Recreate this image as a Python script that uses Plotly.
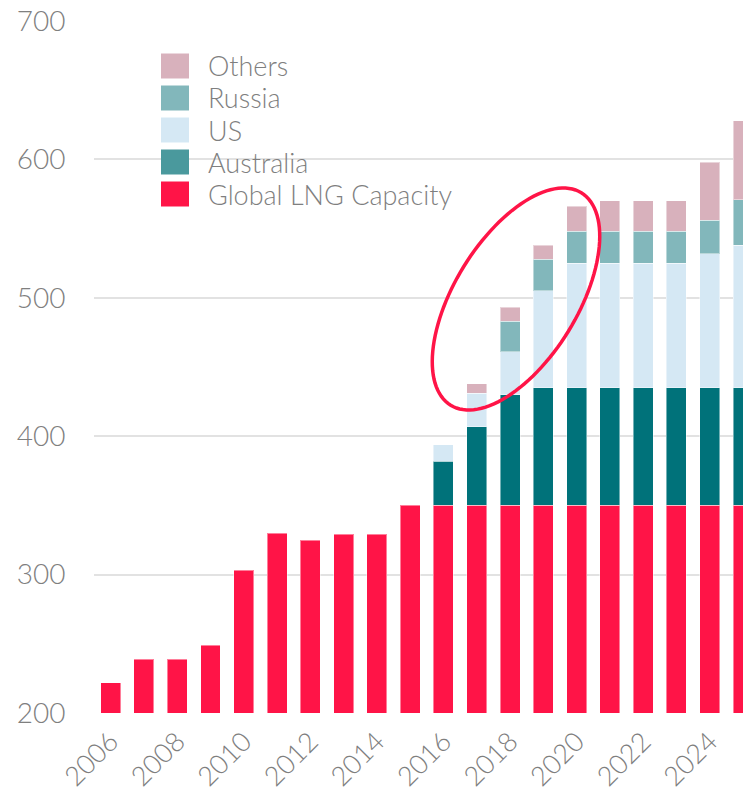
import math
import plotly.graph_objects as go

# LNG export capacity (mtpa) by year, stacked by source of new capacity
years = list(range(2006, 2026))
global_lng = [222, 239, 239, 249, 303, 330, 325, 329, 329, 350,
              350, 350, 350, 350, 350, 350, 350, 350, 350, 350]
australia = [None] * 10 + [32, 57, 80, 85, 85, 85, 85, 85, 85, 85]
us = [None] * 10 + [12, 24, 31, 70, 90, 90, 90, 90, 97, 103]
russia = [None] * 12 + [22, 23, 23, 23, 23, 23, 24, 33]
others = [None] * 11 + [7, 10, 10, 18, 22, 22, 22, 42, 57]

series_names = ["Global LNG Capacity", "Australia", "US", "Russia", "Others"]
series_values = [global_lng, australia, us, russia, others]
bar_colors = ["#FF1447", "#00727A", "#D5E8F4", "#82B7BB", "#D8B1BC"]
legend_colors = ["#FF1447", "#4A999D", "#D5E8F4", "#82B7BB", "#D8B1BC"]

y_ticks = [200, 300, 400, 500, 600, 700]
x_ticks = list(range(2006, 2025, 2))

FONT = dict(family="Lato, 'Open Sans', sans-serif", size=28, color="#7f7f7f", weight=300)

# plot area geometry (pixels) used for the annotation ellipse and legend
W, H = 743, 794
ML, MR, MT, MB = 94, 0, 21, 81
X_RANGE = [2005.5, 2025]
Y_RANGE = [200, 700]
plot_w = W - ML - MR
plot_h = H - MT - MB
px_per_x = plot_w / (X_RANGE[1] - X_RANGE[0])
px_per_y = plot_h / (Y_RANGE[1] - Y_RANGE[0])

fig = go.Figure()
for name, vals, col in zip(series_names, series_values, bar_colors):
    fig.add_trace(go.Bar(
        x=years, y=vals, name=name, showlegend=False,
        marker=dict(color=col, line=dict(color="rgba(255,255,255,0.45)", width=1)),
    ))

# rotated ellipse highlighting the 2017-2020 ramp-up
cx_px, cy_px = 516, 299
a_px, b_px, theta = 124.7, 61.5, math.radians(58.4)
cx = X_RANGE[0] + (cx_px - ML) / px_per_x
cy = Y_RANGE[0] + (MT + plot_h - cy_px) / px_per_y
pts = []
for i in range(121):
    t = 2 * math.pi * i / 120
    dx = a_px * math.cos(t) * math.cos(theta) - b_px * math.sin(t) * math.sin(theta)
    dy = a_px * math.cos(t) * math.sin(theta) + b_px * math.sin(t) * math.cos(theta)
    pts.append((cx + dx / px_per_x, cy + dy / px_per_y))
path = "M " + " L ".join(f"{x:.4f},{y:.4f}" for x, y in pts) + " Z"

shapes = [dict(type="path", path=path, xref="x", yref="y",
               line=dict(color="#FF1447", width=3.5), layer="above")]

# legend drawn as large square swatches with labels
annotations = []
def to_paper_x(px):
    return (px - ML) / plot_w
def to_paper_y(py):
    return (MT + plot_h - py) / plot_h

for i, (name, col) in enumerate(zip(reversed(series_names), reversed(legend_colors))):
    yc = 66 + 32 * i
    shapes.append(dict(type="rect", xref="paper", yref="paper",
                       x0=to_paper_x(161), x1=to_paper_x(189),
                       y0=to_paper_y(yc + 12.5), y1=to_paper_y(yc - 12.5),
                       fillcolor=col, line=dict(width=0), layer="above"))
    annotations.append(dict(xref="paper", yref="paper", x=to_paper_x(206), y=to_paper_y(yc),
                            text=name, showarrow=False, xanchor="left", yanchor="middle",
                            font=dict(FONT, size=27)))

fig.update_layout(
    width=W, height=H,
    margin=dict(l=ML, r=MR, t=MT, b=MB, autoexpand=False),
    barmode="stack", bargap=0.4,
    plot_bgcolor="white", paper_bgcolor="white",
    font=FONT,
    shapes=shapes, annotations=annotations,
    showlegend=False,
    xaxis=dict(range=X_RANGE, tickvals=x_ticks, ticktext=[str(v) for v in x_ticks],
               tickangle=-45, showgrid=False, zeroline=False, showline=False,
               automargin=False,
               ticks="outside", ticklen=1, tickcolor="rgba(0,0,0,0)",
               tickfont=dict(FONT, size=27)),
    yaxis=dict(range=Y_RANGE, tickvals=y_ticks, showgrid=True, gridcolor="#E2E2E2",
               gridwidth=1.5, zeroline=False, showline=False, automargin=False,
               ticks="outside", ticklen=22, tickcolor="rgba(0,0,0,0)", tickfont=FONT),
)

fig.write_html("out.html")
